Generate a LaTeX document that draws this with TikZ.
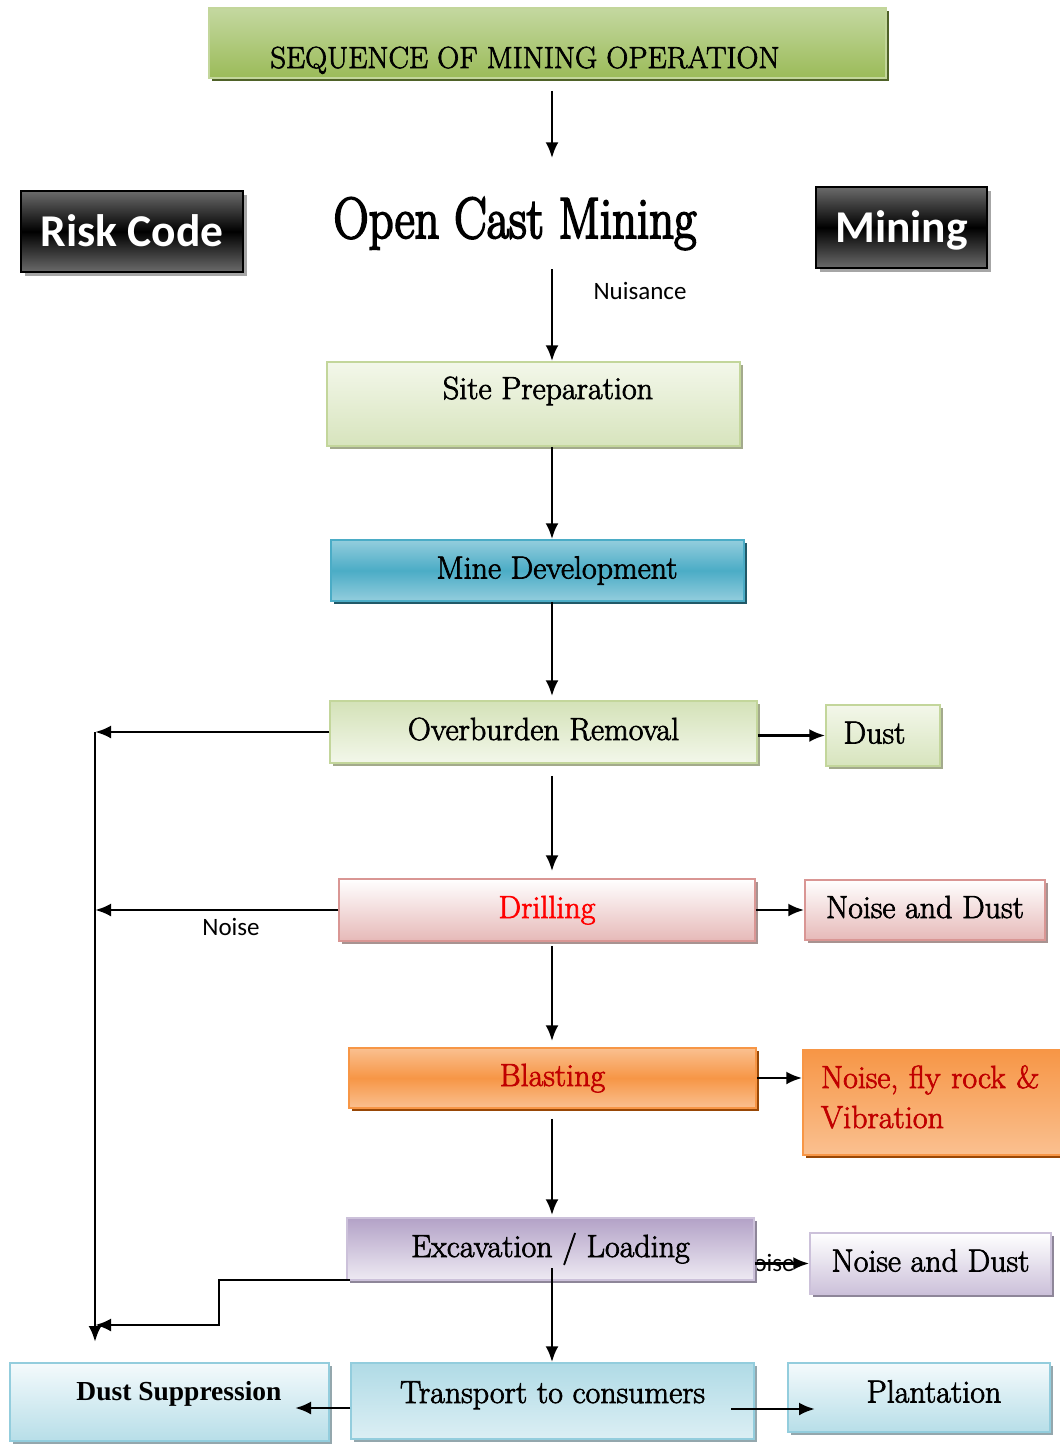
\documentclass[tikz,border=0pt]{standalone}
\usepackage{fontspec}
\usepackage{graphicx}
\newfontfamily\calibri{Carlito}
\newfontfamily\timesfont{Liberation Serif}
\newfontfamily\schoolfont{Latin Modern Roman}[FakeBold=2.2]
\newfontfamily\headfont{Latin Modern Roman}[FakeBold=3.5]
\usetikzlibrary{calc, arrows.meta, shadows}
\definecolor{greenedge}{HTML}{C3D69B}
\definecolor{greenlight}{HTML}{F3F7EA}
\definecolor{greenmid}{HTML}{D7E4BD}
\definecolor{greenshadow}{HTML}{A3AA8C}
\definecolor{titletop}{HTML}{C4D8A0}
\definecolor{titlebot}{HTML}{9BBB59}
\definecolor{titleshadow}{HTML}{4F6228}
\definecolor{bluemid}{HTML}{4BACC6}
\definecolor{bluelight}{HTML}{93CDDD}
\definecolor{blueshadow}{HTML}{215968}
\definecolor{pinkedge}{HTML}{D99694}
\definecolor{pinkmid}{HTML}{E6B9B8}
\definecolor{pinkshadow}{HTML}{A89391}
\definecolor{orangemid}{HTML}{F79646}
\definecolor{orangelight}{HTML}{FAC090}
\definecolor{orangeshadow}{HTML}{984807}
\definecolor{purpleedge}{HTML}{CCC1DA}
\definecolor{purplemid}{HTML}{B3A2C7}
\definecolor{purplelight}{HTML}{EEEAF3}
\definecolor{purpleshadow}{HTML}{8E8699}
\definecolor{skyedge}{HTML}{93CDDD}
\definecolor{skymid}{HTML}{B7DEE8}
\definecolor{skylight}{HTML}{F4FAFC}
\definecolor{skyshadow}{HTML}{94A7AD}
\definecolor{darkred}{HTML}{C00000}
\definecolor{blackgray}{HTML}{6B6B6B}
\newcommand{\boxfont}{\schoolfont\fontsize{32}{40}\selectfont}

\begin{document}
\begin{tikzpicture}
    [
        x=1pt, y=-1pt, >={Latex[length=16pt, width=13pt]},
        box/.style={draw, line width=1.5pt, inner sep=0pt, text height=22pt, text depth=6pt, font=\boxfont},
        boxshadow/.style={drop shadow={shadow xshift=3pt, shadow yshift=-3pt, fill=#1, opacity=1}},
        titlebox/.style={box, draw=greenedge, top color=titletop, bottom color=titlebot, boxshadow=titleshadow, font=\schoolfont\fontsize{30.5}{34}\selectfont},
        blackbox/.style={draw=black, line width=2pt, inner sep=0pt, top color=blackgray, bottom color=blackgray, middle color=black, text=white, text height=30pt, text depth=0pt, font=\calibri\bfseries\fontsize{45.5}{50}\selectfont, drop shadow={shadow xshift=4pt, shadow yshift=-4pt, fill=gray!70, opacity=1}},
        greenbox/.style={box, draw=greenedge, top color=greenlight, bottom color=greenmid, boxshadow=greenshadow},
        bluebox/.style={box, draw=bluemid, top color=bluelight, bottom color=bluelight, middle color=bluemid, boxshadow=blueshadow},
        pinkbox/.style={box, draw=pinkedge, top color=white, bottom color=pinkmid, boxshadow=pinkshadow},
        orangebox/.style={box, draw=orangemid, top color=orangelight, bottom color=orangelight, middle color=orangemid, boxshadow=orangeshadow},
        purplebox/.style={box, draw=purpleedge, top color=purplemid, bottom color=purplelight, boxshadow=purpleshadow},
        skybox/.style={box, draw=skyedge, top color=skylight, bottom color=skymid, boxshadow=skyshadow},
        labeltext/.style={inner sep=0pt, font=\calibri\fontsize{25}{28}\selectfont}
    ]
    \tikzstyle{line} = [draw, line width=2.8pt, ->]

    \path[use as bounding box, fill=white] (0,0) rectangle (1060,1444);
    \coordinate (spine) at (552,0);

    % Header
    \node[titlebox, minimum width=677pt, minimum height=70pt, text height=56pt] (title) at (547.5,43) {SEQUENCE OF MINING OPERATION\hspace*{45pt}};
    \node[blackbox, minimum width=222pt, minimum height=81pt] (risk) at (132,231.5) {Risk Code};
    \node[blackbox, minimum width=171pt, minimum height=81pt] (mining) at (901.5,227.5) {Mining};
    \node[anchor=base, inner sep=0pt, font=\headfont\fontsize{58}{60}\selectfont] (ocm) at (515,238) {\scalebox{0.84}[1]{Open Cast Mining}};
    \node[labeltext] (nuisance) at (640,291) {Nuisance};

    % Main column
    \node[greenbox, minimum width=413pt, minimum height=84pt, text depth=32pt] (site) at (533.5,404) {\hspace*{29pt}Site Preparation};
    \node[bluebox, minimum width=413pt, minimum height=61pt] (minedev) at (537.5,570.5) {\hspace*{39pt}Mine Development};
    \node[greenbox, top color=greenmid!85!greenedge, bottom color=greenlight, minimum width=427pt, minimum height=62pt] (overburden) at (543.5,732) {Overburden Removal};
    \node[pinkbox, minimum width=416pt, minimum height=62pt, text=red] (drilling) at (547,910) {Drilling};
    \node[orangebox, minimum width=407pt, minimum height=60pt, text=darkred] (blasting) at (552.5,1078) {Blasting};
    \node[labeltext] (excnoise) at (766,1263) {Noise};
    \node[purplebox, minimum width=407pt, minimum height=62pt] (excavation) at (550.5,1249) {Excavation / Loading};
    \node[skybox, top color=skymid!80!skyedge, bottom color=skylight!60!skymid, minimum width=403pt, minimum height=76pt, text depth=18pt] (transport) at (552.5,1401) {Transport to consumers};

    % Right column
    \node[greenbox, top color=greenlight, bottom color=greenmid, minimum width=114pt, minimum height=61pt] (dust) at (883,735.5) {Dust\hspace*{17pt}};
    \node[pinkbox, minimum width=240pt, minimum height=60pt] (drilldust) at (925,910) {Noise and Dust};
    \node[orangebox, top color=orangemid, bottom color=orangelight, align=left, text width=223pt, inner xsep=18pt, text depth=51pt, minimum height=105pt, text=darkred] (flyrock) at (932.5,1102.5) {Noise, fly rock \&\\ Vibration};
    \node[purplebox, top color=white, bottom color=purpleedge, minimum width=241pt, minimum height=61pt] (excdust) at (930.5,1263.5) {Noise and Dust};

    % Bottom row
    \node[skybox, minimum width=319pt, minimum height=78pt, text depth=26pt, font=\timesfont\bfseries\fontsize{27.5}{32}\selectfont] (dustsupp) at (169.5,1402) {\hspace*{19pt}Dust Suppression};
    \node[skybox, minimum width=262pt, minimum height=69pt, text depth=12pt] (plantation) at (919,1397.5) {\hspace*{30pt}Plantation};

    % Vertical path down the middle
    \coordinate (exc down) at (552,1268);
    \path[line, shorten <=12pt, shorten >=39pt] (title.south -| spine) -- (ocm.north -| spine);
    \path[line, shorten <=19pt] (ocm.south -| spine) -- (site.north -| spine);
    \path[line] (site.south -| spine) -- (minedev.north -| spine);
    \path[line, shorten >=4pt] (minedev.south -| spine) -- (overburden.north -| spine);
    \path[line, shorten <=12pt, shorten >=7pt] (overburden.south -| spine) -- (drilling.north -| spine);
    \path[line, shorten <=4pt, shorten >=6pt] (drilling.south -| spine) -- (blasting.north -| spine);
    \path[line, shorten <=10pt, shorten >=2pt] (blasting.south -| spine) -- (excavation.north -| spine);
    \path[line] (exc down) -- (transport.north -| spine);

    % Hazards on the right
    \path[line] (overburden.east |- dust.west) -- (dust.west);
    \path[line] (drilling.east) -- (drilldust.west);
    \path[line] (blasting.east) -- (blasting.east -| flyrock.west);
    \path[line] (excavation.east |- excdust.west) -- (excdust.west);
    \coordinate (plant out) at (731,1409);
    \coordinate (plant in) at (815,1409);
    \path[line] (plant out) -- (plant in);
    \coordinate (supp in) at (295,1408);
    \path[line] (transport.west |- supp in) -- (supp in);

    % Return lines on the left
    \coordinate (spine top) at (95,732);
    \coordinate (spine end) at (95,1342);
    \coordinate (exc out) at (350,1280);
    \coordinate (bend) at (219,1325);
    \path[line] (overburden.west) -- (spine top);
    \path[line] (drilling.west) -- (drilling.west -| spine top);
    \path[line] (spine top) -- (spine end);
    \path[line] (exc out) -| (bend) -- (bend -| spine top);
    \node[labeltext] (noise) at (231,927) {Noise};
\end{tikzpicture}
\end{document}
